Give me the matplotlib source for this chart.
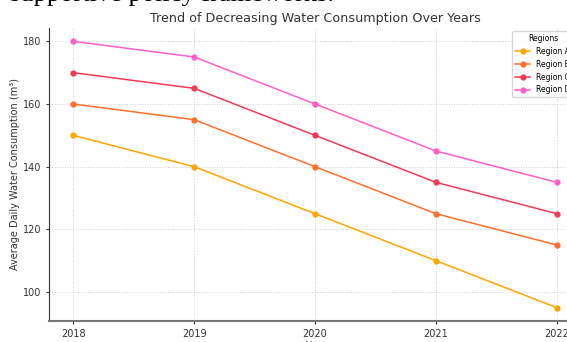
import matplotlib.pyplot as plt

# Dane
years = [2018, 2019, 2020, 2021, 2022]
region_a = [150, 140, 125, 110, 95]
region_b = [160, 155, 140, 125, 115]
region_c = [170, 165, 150, 135, 125]
region_d = [180, 175, 160, 145, 135]
labels = ["Region A", "Region B", "Region C", "Region D"]
colors = ["#FFA500", "#FF6F2E", "#F23A55", "#FF5FC8"]

fig = plt.figure(figsize=(5.67, 3.42), dpi=100)
ax = fig.add_axes([49 / 567, 21 / 342, 532 / 567, 293 / 342])

for vals, lab, col in zip([region_a, region_b, region_c, region_d], labels, colors):
    ax.plot(years, vals, marker="o", markersize=3.5, linewidth=1.1, color=col, label=lab)

ax.set_xticks(years)
ax.set_yticks([100, 120, 140, 160, 180])
ax.tick_params(labelsize=7, colors="#333333", length=2)
ax.grid(True, linestyle=":", color="#cccccc", linewidth=0.7)
ax.set_axisbelow(True)
for s in ["top", "right"]:
    ax.spines[s].set_visible(False)
ax.spines["left"].set_color("#333333")
ax.spines["bottom"].set_color("#777777")
ax.spines["bottom"].set_linewidth(1.5)

ax.set_title("Trend of Decreasing Water Consumption Over Years", fontsize=9.2, color="#333333", pad=4)
ax.set_xlabel("Year", fontsize=7, color="#333333", labelpad=2)
ax.set_ylabel("Average Daily Water Consumption (m³)", fontsize=7, color="#333333", labelpad=2)

leg = ax.legend(title="Regions", loc="upper left", bbox_to_anchor=((512 - 49) / 532, 1 - 3 / 293),
                fontsize=5.5, title_fontsize=5.5, frameon=True, borderaxespad=0)
leg.get_frame().set_edgecolor("#cccccc")

# obcięty tekst z dokumentu nad wykresem
fig.text(10 / 567, 1 - 1.5 / 342, "supportive policy frameworks.", fontsize=19, family="Liberation Serif",
         va="baseline", ha="left")

fig.savefig("out.png", dpi=100)
